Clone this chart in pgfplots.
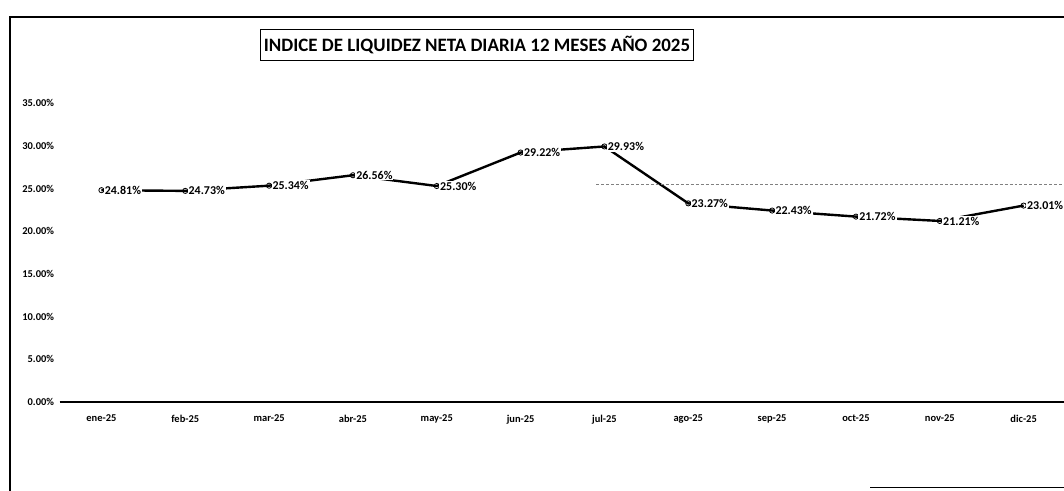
\documentclass[border=0pt]{standalone}
\usepackage{pgfplots}
\pgfplotsset{compat=1.18}
\usepackage{fontspec}
\setmainfont{Carlito}

\pgfplotstableread{
idx val
0  24.81
1  24.73
2  25.34
3  26.56
4  25.30
5  29.22
6  29.93
7  23.27
8  22.43
9  21.72
10 21.21
11 23.01
}\liquidez

\begin{document}
\begin{tikzpicture}[x=1bp,y=1bp]
\useasboundingbox (0,0) rectangle (1064,491);
% marco del grafico
\draw[line width=1.2bp] (10,0) -- (10,474) -- (1064,474);
\draw[line width=1bp] (870,3) -- (1064,3);
% titulo
\node[draw,line width=0.9bp,inner xsep=3bp,inner ysep=7bp,font=\bfseries\fontsize{19}{21}\selectfont]
  at (477,446) {INDICE DE LIQUIDEZ NETA DIARIA 12 MESES AÑO 2025};

\begin{axis}[
    scale only axis,
    width=1006bp, height=299bp,
    at={(71,104)}, anchor=south west,
    xmin=-0.5, xmax=11.5,
    ymin=0, ymax=35,
    axis x line*=bottom,
    axis y line*=left,
    y axis line style={draw=none},
    x axis line style={line width=1.6bp},
    major tick length=0pt,
    xtick=data,
    xticklabels={ene-25,feb-25,mar-25,abr-25,may-25,jun-25,jul-25,ago-25,sep-25,oct-25,nov-25,dic-25},
    ytick={0,5,...,35},
    /pgf/number format/assume math mode=true,
    yticklabel={\pgfmathprintnumber[fixed,fixed zerofill,precision=2]{\tick}\%},
    ticklabel style={font=\bfseries\fontsize{10.5}{12}\selectfont},
    xticklabel style={yshift=-9bp},
    yticklabel style={xshift=-2bp},
    clip=false,
]
\addplot[black, line width=2.4bp, mark=o, mark size=2.6bp,
    mark options={line width=0.8bp, fill=white},
    nodes near coords={\pgfmathprintnumber[fixed,fixed zerofill,precision=2]{\pgfplotspointmeta}\%},
    point meta=y,
    every node near coord/.style={anchor=west, xshift=2bp,
      font=\bfseries\fontsize{12}{13}\selectfont, fill=white, inner sep=1bp}]
  table[x=idx, y=val] {\liquidez};
% linea punteada de fondo (resto del escaneo)
\draw[densely dashed, gray, line width=0.6bp] (axis cs:5.9,25.5) -- (axis cs:11.5,25.5);
\end{axis}
\end{tikzpicture}
\end{document}
